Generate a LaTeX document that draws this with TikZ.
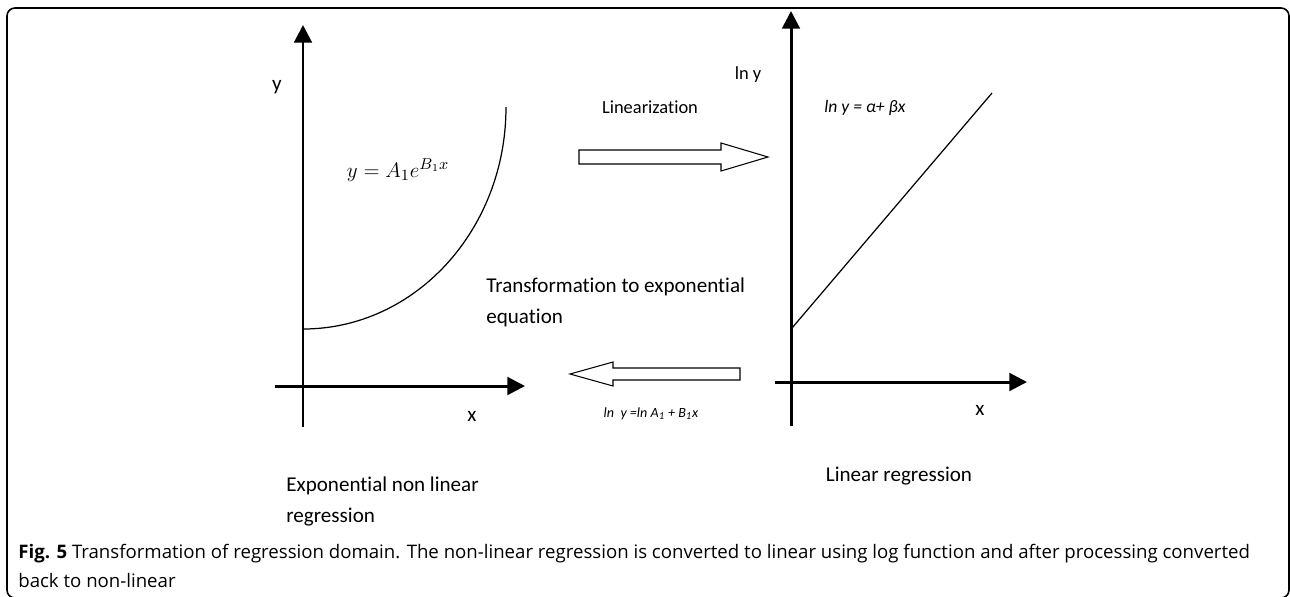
\documentclass[tikz,border=0pt]{standalone}
\usepackage{fontspec}
\setmainfont{Carlito}[Ligatures=NoCommon]
\newfontfamily\capfont{Open Sans}
\usetikzlibrary{arrows.meta}
\begin{document}
\begin{tikzpicture}[x=0.02cm,y=-0.02cm,
  axis/.style={line width=1.7pt,-{Triangle[length=10pt,width=10pt]}},
  curveline/.style={line width=0.7pt},
  blockarrow/.style={draw,line width=0.6pt,fill=white,line join=miter},
  lbl/.style={inner sep=0pt,font=\fontsize{12}{14}\selectfont},
  small/.style={inner sep=0pt,font=\fontsize{10.5}{12}\selectfont},
  twoline/.style={inner sep=0pt,align=left,font=\fontsize{12}{17.6}\selectfont},
]
\useasboundingbox (0,0) rectangle (1290,596);
% frame
\draw[line width=0.9pt,rounded corners=4.5pt] (7,8) rectangle (1289,598);
% left axes
\coordinate (ly0) at (303,427);
\coordinate (ly1) at (303,25);
\coordinate (lx0) at (275,386);
\coordinate (lx1) at (525,386);
\draw[axis] (ly0) -- (ly1);
\draw[axis] (lx0) -- (lx1);
% exponential curve
\coordinate (c0) at (303,329);
\coordinate (c1) at (506,107);
\draw[curveline] (c0) .. controls (415,329) and (506,230) .. (c1);
% right axes
\coordinate (ry0) at (791,426);
\coordinate (ry1) at (791,11);
\coordinate (rx0) at (775,382);
\coordinate (rx1) at (1027,382);
\draw[axis] (ry0) -- (ry1);
\draw[axis] (rx0) -- (rx1);
% straight line
\coordinate (s0) at (792,328);
\coordinate (s1) at (992,93);
\draw[curveline] (s0) -- (s1);
% block arrows
\draw[blockarrow] (579,150) -- (721,150) -- (721,143) -- (768,157) -- (721,171) -- (721,164) -- (579,164) -- cycle;
\draw[blockarrow] (740,368) -- (613,368) -- (613,362) -- (570,374) -- (613,386) -- (613,380) -- (740,380) -- cycle;
% labels
\node[lbl] (ylab) at (277,87) {y};
\node[lbl] (xlab) at (472,416) {x};
\node[lbl] (xlab2) at (980,410) {x};
\node[small] (lny) at (748,75) {ln y};
\node[small] (lin) at (650,107) {Linearization};
\node[inner sep=0pt,font=\fontsize{12.5}{14}\selectfont] (eq1) at (398,170) {$y = A_1e^{B_1x}$};
\node[inner sep=0pt,font=\fontsize{10}{12}\selectfont\itshape] (eq2) at (865,108) {ln y = α+ βx};
\node[twoline,anchor=west] (trans) at (486,302.5) {Transformation to exponential\\equation};
\node[inner sep=0pt,font=\fontsize{8}{10}\selectfont\itshape] (eq3) at (651,414) {ln\ \ y =ln A\textsubscript{1} + B\textsubscript{1}x};
\node[lbl] (linreg) at (899,476) {Linear regression};
\node[twoline,anchor=west] (expreg) at (286,501.5) {Exponential non linear\\regression};
\node[inner sep=0pt,anchor=west,align=left,font=\capfont\fontsize{10.6}{16}\selectfont] (cap) at (18,566) {\textbf{Fig. 5} Transformation of regression domain. The non-linear regression is converted to linear using log function and after processing converted\\back to non-linear};
\end{tikzpicture}
\end{document}
